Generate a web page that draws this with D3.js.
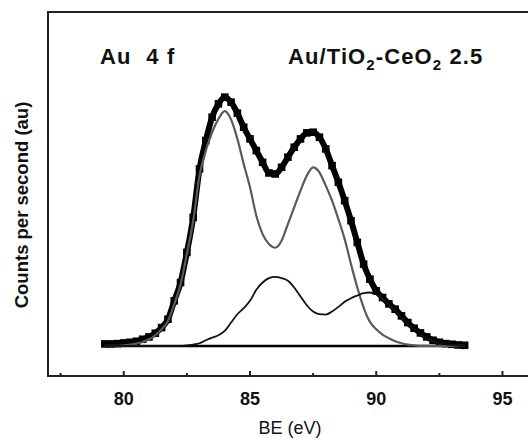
<!DOCTYPE html>
<html><head><meta charset="utf-8">
<script src="https://cdn.jsdelivr.net/npm/d3@7/dist/d3.min.js"></script>
<style>
html,body{margin:0;padding:0;background:#fff;}
svg{display:block;font-family:"Liberation Sans",Arial,sans-serif;}
</style></head>
<body><svg id="c" width="528" height="439"></svg>
<script>
const energy = [79.25,79.5,79.75,80.0,80.25,80.5,80.75,81.0,81.25,81.5,81.75,82.0,82.25,82.5,82.75,83.0,83.25,83.5,83.75,84.0,84.25,84.5,84.75,85.0,85.25,85.5,85.75,86.0,86.25,86.5,86.75,87.0,87.25,87.5,87.75,88.0,88.25,88.5,88.75,89.0,89.25,89.5,89.75,90.0,90.25,90.5,90.75,91.0,91.25,91.5,91.75,92.0,92.25,92.5,92.75,93.0,93.25,93.5];
const totalCounts = [0.6,0.6,0.7,0.9,1.1,1.4,2.0,2.7,3.8,5.5,8.0,13.5,19.0,28.0,38.5,53.0,61.5,68.5,72.5,74.5,73.0,69.7,65.5,62.0,58.5,55.0,51.8,51.5,53.5,56.5,59.5,62.0,63.8,64.0,62.5,59.0,54.0,49.0,43.5,37.5,31.0,24.5,20.0,16.5,14.5,12.6,11.0,9.0,7.0,5.3,3.9,2.7,1.7,1.1,0.7,0.5,0.3,0.2];
const metalAu = [0,0,0,0.2,0.4,0.7,1.2,2.0,3.2,5.0,7.5,12.5,18.5,27.5,37.5,51.0,58.5,64.0,68.0,70.3,67.8,62.0,54.5,47.5,39.0,33.5,30.5,29.4,31.5,36.5,41.5,46.5,51.0,53.5,52.0,48.0,43.5,38.0,32.0,24.5,17.5,11.5,7.2,5.0,3.4,2.3,1.4,0.8,0.4,0.2,0,0,0,0,0,0,0,0];
const oxidizedAu = [0,0,0,0,0,0,0,0,0,0,0,0,0,0.2,0.4,0.8,1.7,2.5,3.2,4.5,7.0,9.5,11.3,13.5,16.8,19.0,20.3,20.7,20.3,19.5,17.5,14.8,12.2,10.3,9.5,9.4,10.3,11.7,13.2,14.3,15.1,15.8,16.0,15.4,14.2,12.3,10.4,8.5,6.5,4.8,3.4,2.3,1.5,0.9,0.5,0.3,0.1,0];
const majorTicks = [80,85,90,95];
const minorTicks = [77.5,82.5,87.5,92.5];
const xTitle = "BE (eV)";
const yTitle = "Counts per second (au)";
const label1 = "Au  4 f";

const svg = d3.select("#c");
const x = d3.scaleLinear().domain([77,97]).range([48,553]);
const y = d3.scaleLinear().domain([-9,100]).range([376,12]);

// frame
svg.append("path").attr("d",`M528,12H48V376H528`).attr("fill","none").attr("stroke","#222").attr("stroke-width",2);

// ticks
const gx = svg.append("g");
gx.selectAll("line.maj").data(majorTicks).join("line").attr("class","maj")
  .attr("x1",d=>x(d)).attr("x2",d=>x(d)).attr("y1",376).attr("y2",371)
  .attr("stroke","#222").attr("stroke-width",2);
gx.selectAll("line.min").data(minorTicks).join("line").attr("class","min")
  .attr("x1",d=>x(d)).attr("x2",d=>x(d)).attr("y1",376).attr("y2",373)
  .attr("stroke","#222").attr("stroke-width",2);
gx.selectAll("text").data(majorTicks).join("text")
  .attr("x",d=>x(d)).attr("y",405).attr("text-anchor","middle")
  .attr("font-size",18).attr("font-weight","bold").attr("fill","#111").text(d=>d);

svg.append("text").attr("x",290).attr("y",434).attr("text-anchor","middle")
  .attr("font-size",18).attr("fill","#111").text(xTitle);
svg.append("text").attr("transform","translate(28,205) rotate(-90)").attr("text-anchor","middle")
  .attr("font-size",18.5).attr("font-weight","bold").attr("fill","#111").text(yTitle);

// labels
svg.append("text").attr("x",100).attr("y",64).attr("font-size",22).attr("font-weight","bold")
  .attr("letter-spacing",1.2).attr("fill","#111").style("white-space","pre").text(label1);
const t2 = svg.append("text").attr("x",288).attr("y",64).attr("font-size",22).attr("font-weight","bold")
  .attr("letter-spacing",1.1).attr("fill","#111");
t2.append("tspan").text("Au/TiO");
t2.append("tspan").attr("font-size",15).attr("dy",6).text("2");
t2.append("tspan").attr("dy",-6).text("-CeO");
t2.append("tspan").attr("font-size",15).attr("dy",6).text("2");
t2.append("tspan").attr("dy",-6).text(" 2.5");

// baseline
svg.append("line").attr("x1",x(energy[0])).attr("x2",x(energy[energy.length-1]))
  .attr("y1",y(0)).attr("y2",y(0)).attr("stroke","#000").attr("stroke-width",2.5);

const line = d3.line().curve(d3.curveMonotoneX);
const tot = energy.map((e,i)=>[x(e),y(totalCounts[i])]);
svg.append("path").attr("d",line(tot)).attr("fill","none").attr("stroke","#000").attr("stroke-width",6);
svg.selectAll("rect.m").data(tot).join("rect").attr("class","m")
  .attr("x",d=>d[0]-3.8).attr("y",d=>d[1]-3.8).attr("width",7.6).attr("height",7.6).attr("fill","#000");

svg.append("path").attr("d",line(energy.map((e,i)=>[x(e),y(metalAu[i])])))
  .attr("fill","none").attr("stroke","#5a5a5a").attr("stroke-width",2.2);
svg.append("path").attr("d",line(energy.map((e,i)=>[x(e),y(oxidizedAu[i])])))
  .attr("fill","none").attr("stroke","#111").attr("stroke-width",1.8);
</script></body></html>
